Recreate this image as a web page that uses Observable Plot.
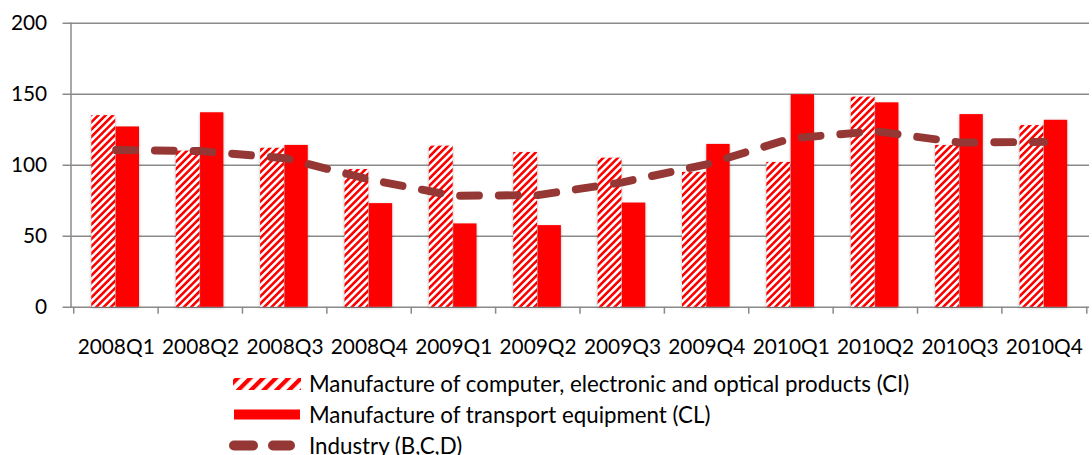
<!DOCTYPE html>
<html>
<head>
<meta charset="utf-8">
<script src="https://cdn.jsdelivr.net/npm/d3@7"></script>
<script src="https://cdn.jsdelivr.net/npm/@observablehq/plot@0.6"></script>
<style>
  html, body { margin: 0; padding: 0; background: #fff; overflow: hidden; }
  #wrap { width: 1092px; height: 455px; overflow: hidden; position: relative; font-family: Lato, sans-serif; }
  #chart svg { display: block; overflow: visible; }
  #chart g[aria-label="bar"] rect { filter: drop-shadow(0px 1px 1.5px rgba(0,0,0,0.28)); }
  .legend { position: absolute; left: 0; top: 368px; width: 1092px; }
  .row { position: relative; height: 31px; }
  .row svg { position: absolute; top: 0; }
  .row span { position: absolute; left: 309px; top: 0; line-height: 31px; font-size: 22.3px; color: #000; white-space: nowrap; }
</style>
</head>
<body>
<svg width="0" height="0" style="position:absolute">
  <defs>
    <pattern id="hatch" patternUnits="userSpaceOnUse" width="5.2" height="5.2" patternTransform="rotate(45)">
      <rect width="5.2" height="5.2" fill="#ffffff"></rect>
      <rect width="2.6" height="5.2" fill="#ff0000"></rect>
    </pattern>
    <pattern id="hatchLegend" patternUnits="userSpaceOnUse" width="9" height="9" patternTransform="rotate(45)">
      <rect width="9" height="9" fill="#ffffff"></rect>
      <rect width="4.2" height="9" fill="#ff0000"></rect>
    </pattern>
  </defs>
</svg>
<div id="wrap">
  <div id="chart"></div>
  <div class="legend" id="legend"></div>
</div>
<script>
const quarters = ["2008Q1","2008Q2","2008Q3","2008Q4","2009Q1","2009Q2","2009Q3","2009Q4","2010Q1","2010Q2","2010Q3","2010Q4"];
const computers = [135, 110, 112, 97, 113.5, 109, 105, 95, 102, 148, 114, 128];
const transport = [127, 137, 114, 73, 58.7, 57.5, 73.4, 114.7, 149.7, 144, 135.7, 131.7];
const industry = [110.7, 110, 105, 90, 78.5, 79, 88, 100.7, 119, 124, 116, 116.5];
const yTicks = [0, 50, 100, 150, 200];
const seriesNames = [
  "Manufacture of computer, electronic and optical products (CI)",
  "Manufacture of transport equipment (CL)",
  "Industry (B,C,D)"
];

const table = quarters.map((q, i) => ({q, ci: computers[i], cl: transport[i], ind: industry[i]}));

const W = 1100, ML = 71, MR = 3, MT = 23, MB = 59, H = 368;
const step = (W - ML - MR) / quarters.length;
const grid = "#8a8a8a";
const lineColor = "#953735";

const plot = Plot.plot({
  width: W,
  height: H,
  marginLeft: ML,
  marginRight: MR,
  marginTop: MT,
  marginBottom: MB,
  style: {fontFamily: "Lato, sans-serif", fontSize: "21px", color: "#000", background: "transparent"},
  x: {type: "band", domain: quarters, padding: 0, label: null},
  y: {domain: [0, 200], ticks: yTicks, label: null},
  marks: [
    Plot.ruleY(yTicks, {y: d => d, stroke: grid, strokeWidth: 1.5, insetLeft: -8}),
    Plot.frame({anchor: "left", stroke: grid, strokeWidth: 1.5}),
    Plot.ruleX(quarters, {x: d => d, dx: -step / 2, stroke: grid, strokeWidth: 1.5, insetTop: H - MT - MB, insetBottom: -7}),
    Plot.ruleX([quarters[quarters.length - 1]], {x: d => d, dx: step / 2, stroke: grid, strokeWidth: 1.5, insetTop: H - MT - MB, insetBottom: -7}),
    Plot.barY(table, {x: "q", y: "ci", fill: "url(#hatch)", insetLeft: 18, insetRight: step - 42.5}),
    Plot.barY(table, {x: "q", y: "cl", fill: "#ff0000", insetLeft: 42.5, insetRight: step - 66.5}),
    Plot.line(table, {x: "q", y: "ind", stroke: lineColor, strokeWidth: 8, strokeDasharray: "19,20", strokeLinecap: "round", strokeLinejoin: "round"}),
    Plot.axisY({ticks: yTicks, tickSize: 0, tickPadding: 24, fontSize: 21}),
    Plot.axisX({tickSize: 0, tickPadding: 32, fontSize: 21})
  ]
});
document.getElementById("chart").appendChild(plot);

// Legend
const legend = document.getElementById("legend");
const swatches = [
  `<svg width="70" height="31" style="left:232px"><rect x="1" y="10" width="68" height="12" fill="url(#hatchLegend)"></rect></svg>`,
  `<svg width="70" height="31" style="left:232px"><rect x="2" y="10.5" width="66" height="10" fill="#ff0000"></rect></svg>`,
  `<svg width="72" height="31" style="left:228px"><line x1="6" y1="15.5" x2="62" y2="15.5" stroke="${lineColor}" stroke-width="10" stroke-linecap="round" stroke-dasharray="19,20"></line></svg>`
];
seriesNames.forEach((name, i) => {
  const row = document.createElement("div");
  row.className = "row";
  row.innerHTML = swatches[i] + `<span>${name}</span>`;
  legend.appendChild(row);
});
</script>
</body>
</html>
